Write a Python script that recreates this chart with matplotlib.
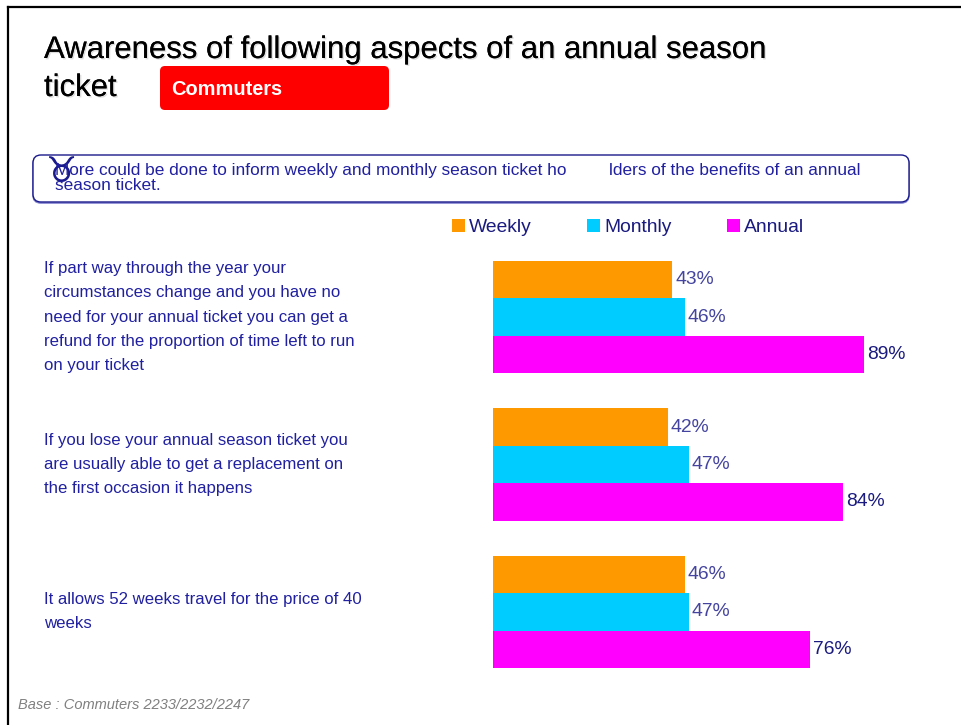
import matplotlib
matplotlib.use("Agg")
import matplotlib.pyplot as plt
import matplotlib.patheffects as pe
from matplotlib.patches import FancyBboxPatch, Patch
from matplotlib.transforms import blended_transform_factory

plt.rcParams['font.family'] = ['Liberation Sans', 'DejaVu Sans']

# survey data
statements = [
    "If part way through the year your\ncircumstances change and you have no\n"
    "need for your annual ticket you can get a\nrefund for the proportion of time left to run\n"
    "on your ticket",
    "If you lose your annual season ticket you\nare usually able to get a replacement on\n"
    "the first occasion it happens",
    "It allows 52 weeks travel for the price of 40\nweeks",
]
series = ["Weekly", "Monthly", "Annual"]
weekly = [43, 42, 46]
monthly = [46, 47, 47]
annual = [89, 84, 76]

colors = ["#FF9900", "#00CCFF", "#FF00FF"]
label_colors = ["#4444A0", "#4444A0", "#1A1A80"]
navy = "#2020A0"

W, H = 962, 725
fig = plt.figure(figsize=(W / 100, H / 100), dpi=100)

# overlay axes in pixel coordinates for the slide furniture
deco = fig.add_axes([0, 0, 1, 1])
deco.set_xlim(0, W)
deco.set_ylim(H, 0)
deco.axis("off")

deco.plot([8, 8], [7, H], color="black", lw=1.6)
deco.plot([8, W], [7, 7], color="black", lw=1.6)

shadow = [pe.withSimplePatchShadow(offset=(1, -1), shadow_rgbFace="#aaaaaa", alpha=0.4), pe.Normal()]
deco.text(44, 50, "Awareness of following aspects of an annual season", fontsize=22.4,
          va="center", ha="left", color="black", path_effects=shadow)
deco.text(44, 88, "ticket", fontsize=22.4, va="center", ha="left", color="black",
          path_effects=shadow)

deco.add_patch(FancyBboxPatch((160, 66), 229, 44, boxstyle="round,pad=0,rounding_size=5",
                              facecolor="#FF0000", edgecolor="none"))
deco.text(171, 89, "Commuters", fontsize=14.4, fontweight="bold", color="white",
          va="center", ha="left")

# note box
deco.add_patch(FancyBboxPatch((33, 156), 876, 47, boxstyle="round,pad=0,rounding_size=8",
                              facecolor="none", edgecolor="#8080D0", lw=1.2))
deco.add_patch(FancyBboxPatch((33, 155), 876, 47, boxstyle="round,pad=0,rounding_size=8",
                              facecolor="white", edgecolor="#1A1A8C", lw=1.0))
deco.text(61, 172, "\u2649", family="DejaVu Sans", fontsize=25, color="#1A1A8C",
          va="center", ha="center")
deco.text(55, 170, "More could be done to inform weekly and monthly season ticket ho",
          fontsize=12.4, color=navy, va="center", ha="left")
deco.text(609, 170, "lders of the benefits of an annual",
          fontsize=12.4, color=navy, va="center", ha="left")
deco.text(55, 185, "season ticket.", fontsize=12.4, color=navy, va="center", ha="left")

deco.text(18, 705, "Base : Commuters 2233/2232/2247", fontsize=10.5, style="italic",
          color="#808080", va="center", ha="left")

# bar chart
top, bottom = 261, 668
ax = fig.add_axes([493 / W, 1 - bottom / H, 417 / W, (bottom - top) / H])
h = 0.2546
ax.set_xlim(0, 100)
ax.set_ylim(2 + 1.5 * h, -1.5 * h)
ax.axis("off")

for i, (name, vals) in enumerate(zip(series, [weekly, monthly, annual])):
    ys = [g + (i - 1) * h for g in range(len(vals))]
    ax.barh(ys, vals, height=h, color=colors[i], edgecolor="none")
    for y, v in zip(ys, vals):
        ax.annotate(f"{v}%", (v, y), xytext=(2, 0), textcoords="offset points",
                    va="center", ha="left", fontsize=13.9, color=label_colors[i])

trans = blended_transform_factory(fig.transFigure, ax.transData)
for g, text in enumerate(statements):
    ax.text(44 / W, g, text, transform=trans, fontsize=12.1, color=navy,
            va="center", ha="left", linespacing=1.77)

handles = [Patch(facecolor=c, edgecolor="none") for c in colors]
fig.legend(handles, series, loc="center left", bbox_to_anchor=(452 / W, 1 - 227.5 / H),
           ncol=3, frameon=False, fontsize=13.9, borderpad=0, borderaxespad=0,
           handlelength=0.68, handleheight=0.68, handletextpad=0.2, columnspacing=2.88,
           labelcolor="#1A1A80")

fig.savefig("out.png", dpi=100)
